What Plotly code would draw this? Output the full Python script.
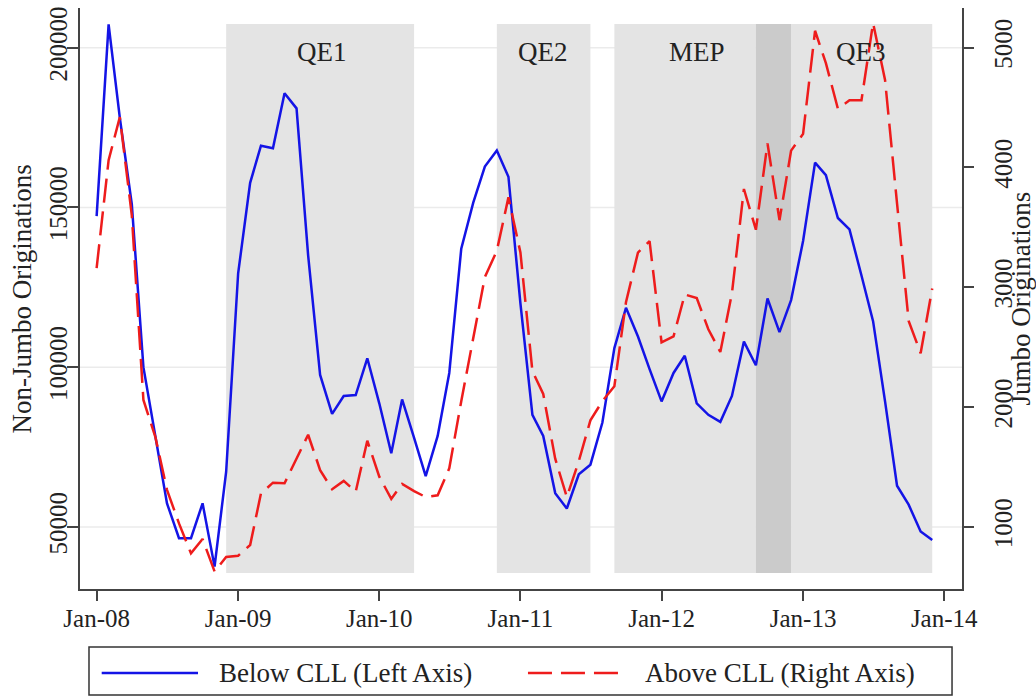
import pandas as pd
import plotly.graph_objects as go

# ---------------- data ----------------
months = pd.date_range("2008-01-01", periods=72, freq="MS")

below_cll = [147300, 207300, 178000, 151000, 100000, 79000, 57400, 46500, 46500, 57400, 37600, 67300,
             129400, 157700, 169300, 168500, 185700, 181000, 135000, 97600, 85400, 91000, 91300, 102800,
             88700, 73100, 89900, 77900, 65900, 78500, 98200, 137100, 151500, 162800, 167800, 159600,
             120000, 85100, 78500, 60600, 55800, 66500, 69500, 82700, 106000, 118600, 109600, 99400,
             89300, 98200, 103600, 88700, 85100, 82900, 91000, 108000, 100600, 121500, 111000, 121000,
             139500, 164000, 160100, 146700, 143100, 128700, 114400, 89300, 62900, 57000, 48600, 45900]

above_cll = [3160, 4060, 4420, 3600, 2060, 1750, 1310, 1030, 780, 900, 630, 750,
             760, 850, 1280, 1370, 1365, 1570, 1770, 1475, 1315, 1385, 1295, 1720,
             1420, 1235, 1360, 1300, 1250, 1265, 1490, 2050, 2590, 3085, 3305, 3750,
             3290, 2300, 2110, 1570, 1250, 1550, 1890, 2050, 2175, 2875, 3290, 3385,
             2540, 2590, 2940, 2910, 2650, 2460, 2950, 3820, 3480, 4200, 3560, 4140,
             4280, 5140, 4870, 4490, 4560, 4560, 5205, 4730, 3700, 2720, 2450, 2990]

# policy periods (light shading) and their overlap (dark shading)
period_names = ["QE1", "QE2", "MEP", "QE3"]
period_start = ["2008-12-01", "2010-11-01", "2011-09-01", "2012-12-01"]
period_end = ["2010-04-01", "2011-07-01", "2012-09-01", "2013-12-01"]
label_dates = ["2009-08-05", "2011-03-01", "2012-04-01", "2013-06-01"]
overlap_start = ["2012-09-01"]
overlap_end = ["2012-12-01"]

x_tick_dates = ["2008-01-01", "2009-01-01", "2010-01-01", "2011-01-01",
                "2012-01-01", "2013-01-01", "2014-01-01"]
x_tick_labels = ["Jan-08", "Jan-09", "Jan-10", "Jan-11", "Jan-12", "Jan-13", "Jan-14"]
left_ticks = [50000, 100000, 150000, 200000]
left_tick_labels = ["50000", "100000", "150000", "200000"]
right_ticks = [1000, 2000, 3000, 4000, 5000]
right_tick_labels = ["1000", "2000", "3000", "4000", "5000"]

series_names = ["Below CLL (Left Axis)", "Above CLL (Right Axis)"]
left_title = "Non-Jumbo Originations"
right_title = "Jumbo Originations"

# ---------------- style ----------------
FONT = "Liberation Serif"
BLUE = "#1414e6"
RED = "#ee1c1c"
AXIS = "#444444"
TXT = "#222222"

fig = go.Figure()
fig.add_trace(go.Scatter(x=months, y=below_cll, mode="lines", name=series_names[0],
                         line=dict(color=BLUE, width=2.5), yaxis="y", showlegend=False))
fig.add_trace(go.Scatter(x=months, y=above_cll, mode="lines", name=series_names[1],
                         line=dict(color=RED, width=2.5, dash="24px,9px"), yaxis="y2",
                         showlegend=False))

shapes = []
# horizontal grid lines (drawn first so the shading covers them)
for v in left_ticks:
    shapes.append(dict(type="line", xref="paper", yref="y", x0=0, x1=1, y0=v, y1=v,
                       line=dict(color="#ebebeb", width=1.5), layer="below"))
for s, e in zip(period_start, period_end):
    shapes.append(dict(type="rect", xref="x", yref="paper", x0=s, x1=e, y0=0.0275, y1=0.9725,
                       fillcolor="#e4e4e4", line=dict(width=0), layer="below"))
for s, e in zip(overlap_start, overlap_end):
    shapes.append(dict(type="rect", xref="x", yref="paper", x0=s, x1=e, y0=0.0275, y1=0.9725,
                       fillcolor="#cbcbcb", line=dict(width=0), layer="below"))

# manual legend box
shapes.append(dict(type="rect", xref="paper", yref="paper", x0=0.0102, x1=0.9887,
                   y0=-0.1824, y1=-0.0998, line=dict(color="#333333", width=1.5),
                   fillcolor="white", layer="above"))
shapes.append(dict(type="line", xref="paper", yref="paper", x0=0.0246, x1=0.1338,
                   y0=-0.1446, y1=-0.1446, line=dict(color=BLUE, width=2.5)))
shapes.append(dict(type="line", xref="paper", yref="paper", x0=0.5079, x1=0.6179,
                   y0=-0.1446, y1=-0.1446, line=dict(color=RED, width=2.5, dash="24px,9px")))

annotations = []
for name, d in zip(period_names, label_dates):
    annotations.append(dict(x=d, y=0.925, xref="x", yref="paper", text=name, showarrow=False,
                            font=dict(family=FONT, size=27, color=TXT),
                            xanchor="center", yanchor="middle"))
annotations.append(dict(x=0.155, y=-0.1446, xref="paper", yref="paper", text=series_names[0],
                        showarrow=False, xanchor="left", yanchor="middle",
                        font=dict(family=FONT, size=27, color=TXT)))
annotations.append(dict(x=0.6383, y=-0.1446, xref="paper", yref="paper", text=series_names[1],
                        showarrow=False, xanchor="left", yanchor="middle",
                        font=dict(family=FONT, size=27, color=TXT)))
annotations.append(dict(x=-0.0658, y=0.50, xref="paper", yref="paper", text=left_title,
                        showarrow=False, textangle=-90, xanchor="center", yanchor="middle",
                        font=dict(family=FONT, size=27, color=TXT)))
annotations.append(dict(x=1.0658, y=0.50, xref="paper", yref="paper", text=right_title,
                        showarrow=False, textangle=-90, xanchor="center", yanchor="middle",
                        font=dict(family=FONT, size=27, color=TXT)))

fig.update_layout(
    width=1036, height=696,
    margin=dict(l=80, r=74, t=8, b=107, autoexpand=False),
    paper_bgcolor="white", plot_bgcolor="white",
    font=dict(family=FONT, size=25, color=TXT),
    xaxis=dict(type="date", range=["2007-11-19", "2014-02-16"], automargin=False,
               tickvals=x_tick_dates, ticktext=x_tick_labels,
               showgrid=False, zeroline=False, showline=True, linecolor=AXIS, linewidth=1.5,
               ticks="outside", ticklen=10, tickwidth=1.5, tickcolor=AXIS,
               ticklabelstandoff=-4,
               tickfont=dict(family=FONT, size=25, color=TXT)),
    yaxis=dict(range=[30600, 212400], tickvals=left_ticks, ticktext=left_tick_labels,
               tickangle=-90, automargin=False, ticklabelstandoff=-10,
               showgrid=False, zeroline=False,
               showline=True, linecolor=AXIS, linewidth=1.5,
               ticks="outside", ticklen=11, tickwidth=1.5, tickcolor=AXIS,
               tickfont=dict(family=FONT, size=25, color=TXT)),
    yaxis2=dict(range=[483, 5330], tickvals=right_ticks, ticktext=right_tick_labels,
                tickangle=-90, overlaying="y", automargin=False, ticklabelstandoff=8,
                side="right", showgrid=False, zeroline=False,
                showline=True, linecolor=AXIS, linewidth=1.5,
                ticks="outside", ticklen=10, tickwidth=1.5, tickcolor=AXIS,
                tickfont=dict(family=FONT, size=25, color=TXT)),
    shapes=shapes,
    annotations=annotations,
)

fig.write_html("out.html", config={"displayModeBar": False},
               post_script="document.body.style.margin='0px';")
